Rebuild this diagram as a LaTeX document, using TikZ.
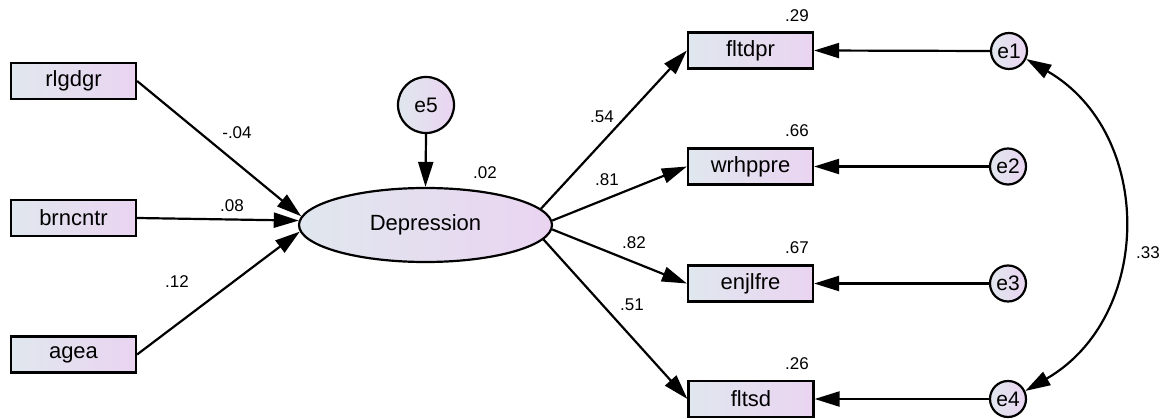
\documentclass[tikz,border=0pt]{standalone}
\usepackage{fontspec}
\setmainfont{Liberation Sans}
\usetikzlibrary{shapes.geometric,arrows.meta}
\definecolor{gl}{RGB}{224,231,238}
\definecolor{gr}{RGB}{234,212,241}
\tikzset{
  obs/.style={draw=black, line width=2.2pt, left color=gl, right color=gr, minimum width=125pt, minimum height=36pt, inner sep=0pt, font=\fontsize{22}{24}\selectfont},
  lat/.style={draw=black, line width=2.2pt, ellipse, left color=gl, right color=gr, minimum width=253pt, minimum height=74pt, inner sep=0pt, font=\fontsize{22}{24}\selectfont},
  err/.style={draw=black, line width=2.2pt, circle, left color=gl, right color=gr, inner sep=0pt, font=\fontsize{21}{24}\selectfont},
  coef/.style={font=\fontsize{17}{20}\selectfont, inner sep=0pt},
  path/.style={line width=2.2pt, -{Triangle[length=25pt,width=15pt]}},
  cov/.style={line width=2.2pt, {Triangle[length=25pt,width=15pt]}-{Triangle[length=25pt,width=15pt]}}
}
\begin{document}
\begin{tikzpicture}[x=1pt,y=1pt]
\useasboundingbox (0,0) rectangle (1167,-419);
\node[obs] (rlg) at (73.5,-81) {rlgdgr};
\node[obs] (brn) at (73.5,-218) {brncntr};
\node[obs] (age) at (73.5,-354.5) {agea};
\node[lat] (dep) at (425.5,-225) {Depression};
\node[err, minimum size=56pt] (e5) at (426,-105) {e5};
\node[obs] (flt) at (750.5,-50.5) {fltdpr};
\node[obs] (wrh) at (750.5,-166.5) {wrhppre};
\node[obs] (enj) at (750.5,-283.5) {enjlfre};
\node[obs] (fsd) at (751,-399) {fltsd};
\node[err, minimum size=36pt] (e1) at (1009,-51) {e1};
\node[err, minimum size=36pt] (e2) at (1008,-166.5) {e2};
\node[err, minimum size=36pt] (e3) at (1008,-283.5) {e3};
\node[err, minimum size=36pt] (e4) at (1008,-399) {e4};

\draw[path] (rlg.east) -- (dep.176);
\draw[path] (brn.east) -- (dep.178.6);
\draw[path] (age.east) -- (dep.183.7);
\draw[path] (e5.south) -- (dep.north);
\draw[path] (dep.8) -- (flt.west);
\draw[path] (dep.2.2) -- (wrh.west);
\draw[path] (dep.-2.2) -- (enj.west);
\draw[path] (dep.-7) -- (fsd.west);
\draw[path] (e1.west) -- (flt.east);
\draw[path] (e2.west) -- (wrh.east);
\draw[path] (e3.west) -- (enj.east);
\draw[path] (e4.west) -- (fsd.east);
\draw[cov] (e1.-25) to[out=-30,in=30,looseness=1.14] (e4.25);

\node[coef] (c1) at (237,-133) {-.04};
\node[coef] (c2) at (232,-206) {.08};
\node[coef] (c3) at (177,-282) {.12};
\node[coef] (c4) at (485,-173) {.02};
\node[coef] (c5) at (602,-117) {.54};
\node[coef] (c6) at (607,-180) {.81};
\node[coef] (c7) at (634,-243) {.82};
\node[coef] (c8) at (632,-305) {.51};
\node[coef] (c9) at (797,-16) {.29};
\node[coef] (c10) at (797,-131) {.66};
\node[coef] (c11) at (797,-248) {.67};
\node[coef] (c12) at (797,-364) {.26};
\node[coef] (c13) at (1148,-253) {.33};
\end{tikzpicture}
\end{document}
